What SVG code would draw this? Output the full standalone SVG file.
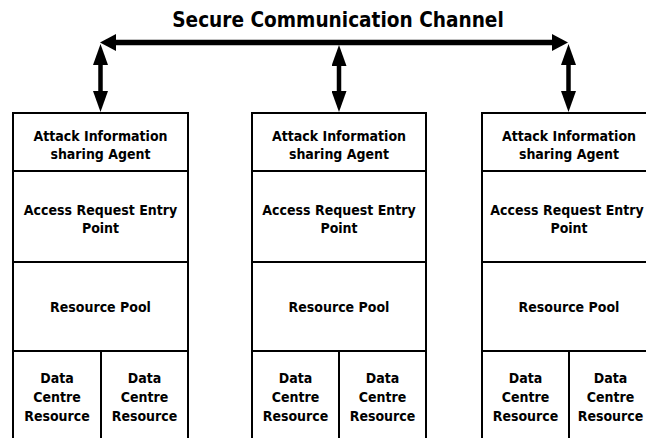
<svg xmlns="http://www.w3.org/2000/svg" width="646" height="438" viewBox="0 0 646 438">
  <style>
    .cell { fill: #ffffff; stroke: #000000; stroke-width: 2; }
    .lbl { font-family: "DejaVu Sans Condensed", "DejaVu Sans", sans-serif; font-stretch: condensed; font-weight: bold; font-size: 14px; fill: #000000; text-anchor: middle; }
    .title { font-family: "DejaVu Sans Condensed", "DejaVu Sans", sans-serif; font-stretch: condensed; font-weight: bold; font-size: 20.6px; fill: #000000; text-anchor: middle; }
    .bus { stroke: #000000; stroke-width: 5.5; fill: none; }
    .link { stroke: #000000; stroke-width: 4.5; fill: none; }
  </style>
  <defs>
    <marker id="headH" markerUnits="userSpaceOnUse" markerWidth="16" markerHeight="17" refX="6" refY="8.5" orient="auto-start-reverse">
      <path d="M0,0 L16,8.5 L0,17 z" fill="#000000"/>
    </marker>
    <marker id="headV" markerUnits="userSpaceOnUse" markerWidth="21" markerHeight="15" refX="8" refY="7.5" orient="auto-start-reverse">
      <path d="M0,0 L21,7.5 L0,15 z" fill="#000000"/>
    </marker>
  </defs>
  <rect width="646" height="438" fill="#ffffff"/>

  <text class="title" x="338" y="27">Secure Communication Channel</text>

  <g id="connectors">
    <line class="bus" x1="110" y1="42.5" x2="558" y2="42.5" marker-start="url(#headH)" marker-end="url(#headH)"/>
    <line class="link" x1="100.5" y1="57" x2="100.5" y2="99" marker-start="url(#headV)" marker-end="url(#headV)"/>
    <line class="link" x1="339" y1="58" x2="339" y2="99" marker-start="url(#headV)" marker-end="url(#headV)"/>
    <line class="link" x1="568.5" y1="57" x2="568.5" y2="99" marker-start="url(#headV)" marker-end="url(#headV)"/>
  </g>

  <g id="site1">
    <rect class="cell" x="13" y="113" width="175" height="58"/>
    <rect class="cell" x="13" y="171" width="175" height="91"/>
    <rect class="cell" x="13" y="262" width="175" height="89"/>
    <rect class="cell" x="13" y="351" width="88" height="100"/>
    <rect class="cell" x="101" y="351" width="87" height="100"/>
    <text class="lbl" x="100.5" y="141">Attack Information</text>
    <text class="lbl" x="100.5" y="159">sharing Agent</text>
    <text class="lbl" x="100.5" y="215">Access Request Entry</text>
    <text class="lbl" x="100.5" y="233">Point</text>
    <text class="lbl" x="100.5" y="312">Resource Pool</text>
    <text class="lbl" x="57" y="383">Data</text>
    <text class="lbl" x="57" y="402">Centre</text>
    <text class="lbl" x="57" y="421">Resource</text>
    <text class="lbl" x="144.5" y="383">Data</text>
    <text class="lbl" x="144.5" y="402">Centre</text>
    <text class="lbl" x="144.5" y="421">Resource</text>
  </g>

  <g id="site2">
    <rect class="cell" x="252" y="113" width="174" height="58"/>
    <rect class="cell" x="252" y="171" width="174" height="91"/>
    <rect class="cell" x="252" y="262" width="174" height="89"/>
    <rect class="cell" x="252" y="351" width="87" height="100"/>
    <rect class="cell" x="339" y="351" width="87" height="100"/>
    <text class="lbl" x="339" y="141">Attack Information</text>
    <text class="lbl" x="339" y="159">sharing Agent</text>
    <text class="lbl" x="339" y="215">Access Request Entry</text>
    <text class="lbl" x="339" y="233">Point</text>
    <text class="lbl" x="339" y="312">Resource Pool</text>
    <text class="lbl" x="295.5" y="383">Data</text>
    <text class="lbl" x="295.5" y="402">Centre</text>
    <text class="lbl" x="295.5" y="421">Resource</text>
    <text class="lbl" x="382.5" y="383">Data</text>
    <text class="lbl" x="382.5" y="402">Centre</text>
    <text class="lbl" x="382.5" y="421">Resource</text>
  </g>

  <g id="site3">
    <rect class="cell" x="482" y="113" width="175" height="58"/>
    <rect class="cell" x="482" y="171" width="175" height="91"/>
    <rect class="cell" x="482" y="262" width="175" height="89"/>
    <rect class="cell" x="482" y="351" width="87" height="100"/>
    <rect class="cell" x="569" y="351" width="88" height="100"/>
    <text class="lbl" x="569" y="141">Attack Information</text>
    <text class="lbl" x="569" y="159">sharing Agent</text>
    <text class="lbl" x="567" y="215">Access Request Entry</text>
    <text class="lbl" x="569" y="233">Point</text>
    <text class="lbl" x="569" y="312">Resource Pool</text>
    <text class="lbl" x="525.5" y="383">Data</text>
    <text class="lbl" x="525.5" y="402">Centre</text>
    <text class="lbl" x="525.5" y="421">Resource</text>
    <text class="lbl" x="610.5" y="383">Data</text>
    <text class="lbl" x="610.5" y="402">Centre</text>
    <text class="lbl" x="610.5" y="421">Resource</text>
  </g>
</svg>
